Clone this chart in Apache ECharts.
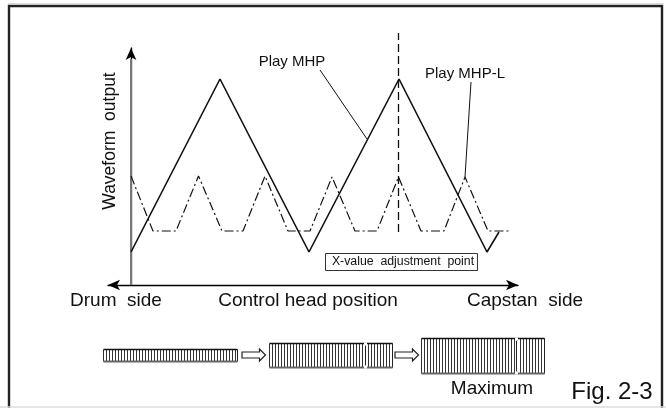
<!DOCTYPE html>
<html>
<head>
<meta charset="utf-8">
<style>html,body{margin:0;padding:0;background:#fff}#main{width:666px;height:408px}</style>
<script src="https://cdn.jsdelivr.net/npm/echarts@6/dist/echarts.min.js"></script>
</head>
<body>
<div id="main"></div>
<script>
// waveforms, x measured from the vertical axis, y up from the horizontal axis
var playMhpX = [0, 89, 178, 268, 356, 368];
var playMhpY = [33, 206, 33, 206, 33, 53];
var playMhpLX = [0, 22, 45, 67.5, 91, 112, 134, 157, 179, 201, 224, 246, 267.5, 290, 313, 334, 357, 379];
var playMhpLY = [109, 54, 54, 109, 54, 54, 109, 54, 54, 108, 54, 54, 108, 54, 54, 108, 54, 54];
var adjustX = [267.5, 267.5];
var adjustY = [53, 252];
var shaftX = [0, 0];
var shaftY = [0, 226];
var leaderMhpX = [189, 236];
var leaderMhpY = [215, 146];
var leaderMhpLX = [340, 334];
var leaderMhpLY = [203, 108];

// tape drawings below the axis: start, notch (0 = none), end, bottom, top
var tapes = [
  [-28, 0, 106, -76, -64],
  [138, 234, 261, -82, -58],
  [290, 385, 413, -88, -53]
];
// hollow arrows between the tapes: start, end, middle
var tapeArrows = [
  [111, 134.5, -70],
  [264, 287.5, -70]
];

function pair(xs, ys) {
  return xs.map(function (x, i) { return [x, ys[i]]; });
}

function renderTape(params, api) {
  var x0 = api.coord([api.value(0), api.value(3)]);
  var x1 = api.coord([api.value(2), api.value(4)]);
  var notch = api.value(1) ? api.coord([api.value(1), 0])[0] : 0;
  var left = Math.round(x0[0]) + 0.5, right = Math.round(x1[0]) + 0.5;
  var bottom = Math.round(x0[1]) + 0.5, top = Math.round(x1[1]) + 0.5;
  var kids = [];
  for (var x = left; x <= right; x += 3) {
    kids.push({ type: 'line', shape: { x1: x, y1: top, x2: x, y2: bottom }, style: { stroke: '#333', lineWidth: 1 } });
  }
  kids.push({ type: 'line', shape: { x1: right, y1: top, x2: right, y2: bottom }, style: { stroke: '#222', lineWidth: 1 } });
  kids.push({ type: 'line', shape: { x1: left, y1: top, x2: right, y2: top }, style: { stroke: '#111', lineWidth: 1.5 } });
  kids.push({ type: 'line', shape: { x1: left, y1: bottom, x2: right, y2: bottom }, style: { stroke: '#666', lineWidth: 2 } });
  if (notch) {
    var n = Math.round(notch) + 0.5;
    kids.push({ type: 'rect', shape: { x: n - 1.5, y: top + 2, width: 3, height: bottom - top - 4 }, style: { fill: '#fff' } });
    kids.push({ type: 'line', shape: { x1: n, y1: top + 2, x2: n, y2: bottom - 2 }, style: { stroke: '#222', lineWidth: 1 } });
    kids.push({ type: 'rect', shape: { x: n - 1.5, y: top - 1, width: 3, height: 3 }, style: { fill: '#fff' } });
    kids.push({ type: 'rect', shape: { x: n - 1.5, y: bottom - 2, width: 3, height: 3 }, style: { fill: '#fff' } });
  }
  return { type: 'group', children: kids };
}

function renderArrow(params, api) {
  var a = api.coord([api.value(0), api.value(2)]);
  var b = api.coord([api.value(1), api.value(2)]);
  var neck = b[0] - 6;
  return {
    type: 'polygon',
    shape: {
      points: [
        [a[0], a[1] - 3], [neck, a[1] - 3], [neck, a[1] - 6], [b[0], a[1]],
        [neck, a[1] + 6], [neck, a[1] + 3], [a[0], a[1] + 3]
      ]
    },
    style: { fill: '#fff', stroke: '#222', lineWidth: 1.2 }
  };
}

function lineSeries(name, xs, ys, color, width, dash) {
  return {
    name: name,
    type: 'line',
    data: pair(xs, ys),
    showSymbol: false,
    clip: false,
    silent: true,
    lineStyle: { color: color, width: width, type: dash || 'solid' }
  };
}

function label(text, x, y, size, rotation) {
  return {
    type: 'text',
    x: x,
    y: y,
    rotation: rotation || 0,
    style: {
      text: text,
      fontFamily: 'Liberation Sans',
      fontSize: size,
      fill: '#111',
      align: 'center',
      verticalAlign: 'middle'
    }
  };
}

var chart = echarts.init(document.getElementById('main'), null, { renderer: 'canvas' });

var option = {
  animation: false,
  backgroundColor: '#fff',
  grid: { left: 108, width: 410, top: 48, height: 237 },
  xAxis: {
    type: 'value', min: -23, max: 387,
    splitLine: { show: false }, axisTick: { show: false }, axisLabel: { show: false },
    axisLine: { lineStyle: { color: '#000', width: 1.3 }, symbol: ['arrow', 'arrow'], symbolSize: [8, 12] }
  },
  yAxis: {
    type: 'value', min: 0, max: 237,
    splitLine: { show: false }, axisTick: { show: false }, axisLabel: { show: false },
    axisLine: { lineStyle: { color: '#000', width: 1.3 }, symbol: ['none', 'arrow'], symbolSize: [8, 12] }
  },
  series: [
    lineSeries('Axis', shaftX, shaftY, '#777', 2),
    lineSeries('Play MHP', playMhpX, playMhpY, '#111', 1.6),
    lineSeries('Play MHP-L', playMhpLX, playMhpLY, '#111', 1.2, [9, 3, 2, 3]),
    lineSeries('X-value adjustment point', adjustX, adjustY, '#111', 1.3, [8, 4]),
    lineSeries('Play MHP leader', leaderMhpX, leaderMhpY, '#111', 1),
    lineSeries('Play MHP-L leader', leaderMhpLX, leaderMhpLY, '#111', 1),
    { type: 'custom', renderItem: renderTape, data: tapes, clip: false, silent: true, encode: { x: [0, 2], y: [3, 4] } },
    { type: 'custom', renderItem: renderArrow, data: tapeArrows, clip: false, silent: true, encode: { x: [0, 1], y: 2 } }
  ],
  graphic: [
    { type: 'polyline', shape: { points: [[9, 408], [9, 6], [662, 6], [662, 408]] }, style: { fill: 'none', stroke: '#222', lineWidth: 2.4 } },
    { type: 'line', shape: { x1: 8, y1: 3.5, x2: 664, y2: 3.5 }, style: { stroke: '#ddd', lineWidth: 1 } },
    { type: 'line', shape: { x1: 0, y1: 407, x2: 666, y2: 407 }, style: { stroke: '#ddd', lineWidth: 1.5 } },
    { type: 'rect', shape: { x: 325.5, y: 253.5, width: 152, height: 17 }, style: { fill: '#fff', stroke: '#333', lineWidth: 1 } },
    label('Waveform  output', 110, 141, 17.5, Math.PI / 2),
    label('Play MHP', 292, 62, 15),
    label('Play MHP-L', 465, 74, 15),
    label('X-value  adjustment  point', 403, 262, 12.3),
    label('Drum  side', 116, 301, 19),
    label('Control head position', 308, 301, 19),
    label('Capstan  side', 525, 301, 19),
    label('Maximum', 492, 389, 19),
    label('Fig. 2-3', 612, 392, 24)
  ]
};

chart.setOption(option);
window.addEventListener('resize', chart.resize);
</script>
</body>
</html>
